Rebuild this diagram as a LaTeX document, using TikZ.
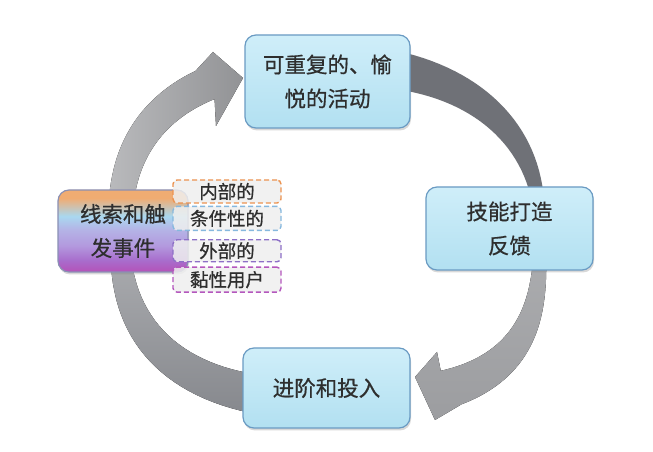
\documentclass[tikz,border=0pt]{standalone}
\usepackage{fontspec}
\newfontfamily\cjk[FakeBold=0.7]{Noto Sans CJK SC}
\usetikzlibrary{positioning,shadows}

\definecolor{stagetop}{HTML}{CFEEF9}
\definecolor{stagebot}{HTML}{B2E0F1}
\definecolor{stageedge}{HTML}{6A9BC3}
\definecolor{cueedge}{HTML}{8A90B4}
\definecolor{inktext}{HTML}{2E2E2E}
\definecolor{cueA}{HTML}{F0AC72}
\definecolor{cueB}{HTML}{A9D8F0}
\definecolor{cueC}{HTML}{B4B4E6}
\definecolor{cueD}{HTML}{B399DE}
\definecolor{cueE}{HTML}{A86CCC}
\definecolor{cueF}{HTML}{B552B8}
\definecolor{tagfill}{HTML}{EFEFEF}
\definecolor{tagA}{HTML}{EC9350}
\definecolor{tagB}{HTML}{86B8DE}
\definecolor{tagC}{HTML}{8D6FC6}
\definecolor{tagD}{HTML}{B457BD}
\definecolor{arcone}{HTML}{A2A3A6}
\definecolor{arctwo}{HTML}{6F7177}
\definecolor{arcthree}{HTML}{9C9DA0}
\definecolor{arcfour}{HTML}{86888D}
\pgfdeclareverticalshading{cueshade}{100bp}{color(0bp)=(cueF); color(25bp)=(cueF); color(32bp)=(cueE); color(41bp)=(cueD); color(51bp)=(cueC); color(59bp)=(cueB); color(70bp)=(cueA); color(100bp)=(cueA)}

\tikzset{
  stage/.style={draw=stageedge, line width=1.2pt, rounded corners=11pt,
    top color=stagetop, bottom color=stagebot, align=center, text=inktext,
    font=\cjk\fontsize{21.5}{34}\selectfont,
    drop shadow={shadow xshift=1pt, shadow yshift=-2.5pt, opacity=.3}},
  cuetag/.style={dash pattern=on 5pt off 3pt, line width=1.4pt, rounded corners=4pt,
    fill=tagfill, fill opacity=.85, text opacity=1, text=inktext,
    minimum width=108pt, inner sep=0pt, font=\cjk\fontsize{18.5}{20}\selectfont},
}

\begin{document}
\begin{tikzpicture}[x=1pt,y=1pt,
    declare function={
      ringx(\t,\o,\e)=330+(210+\o)*abs(cos(\t))^\e*cos(\t)/abs(cos(\t));
      ringy(\t,\o,\e)=220+(167+\o)*abs(sin(\t))^\e*sin(\t)/abs(sin(\t));
      taper(\t,\a,\b,\p,\q)=(\p+(\q-\p)*(\t-\a)/(\b-\a))/2;}]
  \useasboundingbox[fill=white] (0,0) rectangle (653,452);

  % the loop, drawn under the boxes
  \fill[left color=arcone!75!white, right color=arcone!90!black]
    plot[variable=\t,domain=178:121.5,samples=30]
      ({ringx(\t,taper(\t,178,121.5,24,32),.8)},{ringy(\t,taper(\t,178,121.5,24,32),.8)})
    -- (213,400) -- (243,374) -- (216,326)
    -- plot[variable=\t,domain=121.5:178,samples=30]
      ({ringx(\t,-taper(\t,178,121.5,24,32),.8)},{ringy(\t,-taper(\t,178,121.5,24,32),.8)})
    -- cycle;
  \fill[arctwo]
    plot[variable=\t,domain=76:8,samples=30]
      ({ringx(\t,taper(\t,76,8,38,12),.87)},{ringy(\t,taper(\t,76,8,38,12),.87)})
    -- plot[variable=\t,domain=8:76,samples=30]
      ({ringx(\t,-taper(\t,76,8,38,12),.87)},{ringy(\t,-taper(\t,76,8,38,12),.87)})
    -- cycle;
  \fill[top color=arcthree!85!white, bottom color=arcthree]
    plot[variable=\t,domain=-3:-64,samples=30]
      ({ringx(\t,taper(\t,-3,-64,13,36),.667)},{ringy(\t,taper(\t,-3,-64,13,36),.667)})
    -- (435,32) -- (415,75) -- (437,100)
    -- plot[variable=\t,domain=-64:-3,samples=30]
      ({ringx(\t,-taper(\t,-3,-64,13,36),.667)},{ringy(\t,-taper(\t,-3,-64,13,36),.667)})
    -- cycle;
  \fill[top color=arcfour!70!white, bottom color=arcfour]
    plot[variable=\t,domain=-100:-176,samples=30]
      ({ringx(\t,taper(\t,-100,-176,40,20),.8)},{ringy(\t,taper(\t,-100,-176,40,20),.8)})
    -- plot[variable=\t,domain=-176:-100,samples=30]
      ({ringx(\t,-taper(\t,-100,-176,40,20),.8)},{ringy(\t,-taper(\t,-100,-176,40,20),.8)})
    -- cycle;

  % the four stages
  \node[stage, minimum width=165pt, minimum height=93pt] (action) at (327.5,370.5) {可重复的、愉\\悦的活动};
  \node[stage, minimum width=167pt, minimum height=83pt] (reward) at (509.5,223.5) {技能打造\\反馈};
  \node[stage, minimum width=167pt, minimum height=80pt] (invest) at (326.5,64) {进阶和投入};
  \node[stage, shading=cueshade, draw=cueedge, minimum width=130pt, minimum height=82pt] (trigger) at (123,221) {线索和触\\发事件};

  % kinds of trigger
  \node[cuetag, draw=tagA, minimum height=23pt] (inner) at (227,260.5) {内部的};
  \node[cuetag, draw=tagB, minimum height=24pt, below=2pt of inner] (cond) {条件性的};
  \node[cuetag, draw=tagC, minimum height=22pt, below=8pt of cond] (outer) {外部的};
  \node[cuetag, draw=tagD, minimum height=25pt, below=4pt of outer] (sticky) {黏性用户};
\end{tikzpicture}
\end{document}
